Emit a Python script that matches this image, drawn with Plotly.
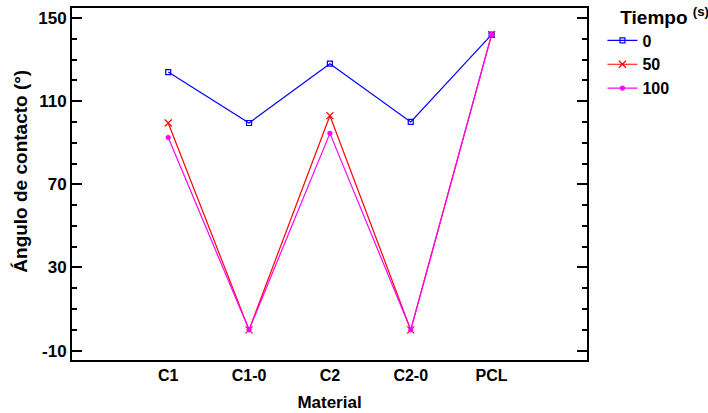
import plotly.graph_objects as go

materials = ["C1", "C1-0", "C2", "C2-0", "PCL"]
t0 = [124, 99.5, 128, 100, 142]
t50 = [99.5, 0, 103, 0, 142]
t100 = [92.5, 0, 94.5, 0, 142]
y_ticks = [-10, 30, 70, 110, 150]
y_tick_labels = ["-10", "30", "70", "110", "150"]

FONT = "Liberation Sans, Arial, sans-serif"

series = [
    ("0", t0, "#0000FF", "square-open", 5),
    ("50", t50, "#FF0000", "x-thin-open", 7),
    ("100", t100, "#FF00FF", "circle", 4),
]

fig = go.Figure()
for name, vals, color, sym, size in series:
    fig.add_trace(go.Scatter(
        x=list(range(len(materials))), y=vals, name=name,
        mode="lines+markers",
        line=dict(color=color, width=1.2),
        marker=dict(symbol=sym, size=size, color=color,
                    line=dict(color=color, width=1.2)),
    ))

fig.update_layout(
    width=708, height=413,
    margin=dict(l=72, r=121, t=8, b=53, autoexpand=False),
    paper_bgcolor="white", plot_bgcolor="white",
    font=dict(family=FONT, size=16, color="black", weight="bold"),
    showlegend=True,
    legend=dict(
        x=1.03, xanchor="left", y=1.026, yanchor="top",
        xref="paper", yref="paper",
        title=dict(text="&nbsp;&nbsp;&nbsp;Tiempo <sup>(s)</sup>",
                   font=dict(size=19, weight="bold")),
        font=dict(size=16, weight="bold"),
        bgcolor="rgba(0,0,0,0)",
        tracegroupgap=0,
    ),
    xaxis=dict(
        range=[-1.19, 5.18],
        tickmode="array", tickvals=list(range(len(materials))), ticktext=materials,
        showgrid=False, zeroline=False,
        showline=True, linecolor="black", linewidth=2, mirror=True,
        ticks="", tickfont=dict(size=16, weight="bold"),
        title=dict(text="Material", font=dict(size=17, weight="bold"), standoff=13),
    ),
    yaxis=dict(
        range=[-14.5, 154.8],
        tickmode="array", tickvals=y_ticks, ticktext=y_tick_labels,
        showgrid=False, zeroline=False,
        showline=True, linecolor="black", linewidth=2, mirror="ticks",
        ticks="inside", ticklen=10, tickwidth=1.5, tickcolor="black",
        tickfont=dict(size=17, weight="bold"),
        minor=dict(dtick=10, tick0=-10, ticks="inside", ticklen=5, tickwidth=1.5,
                   tickcolor="black", showgrid=False),
    ),
    annotations=[dict(
        text="Ángulo de contacto (°)", textangle=-90,
        xref="paper", yref="paper", x=-0.099, y=0.535,
        xanchor="center", yanchor="middle", showarrow=False,
        font=dict(size=19, weight="bold"),
    )],
)

fig.write_html("out.html")
